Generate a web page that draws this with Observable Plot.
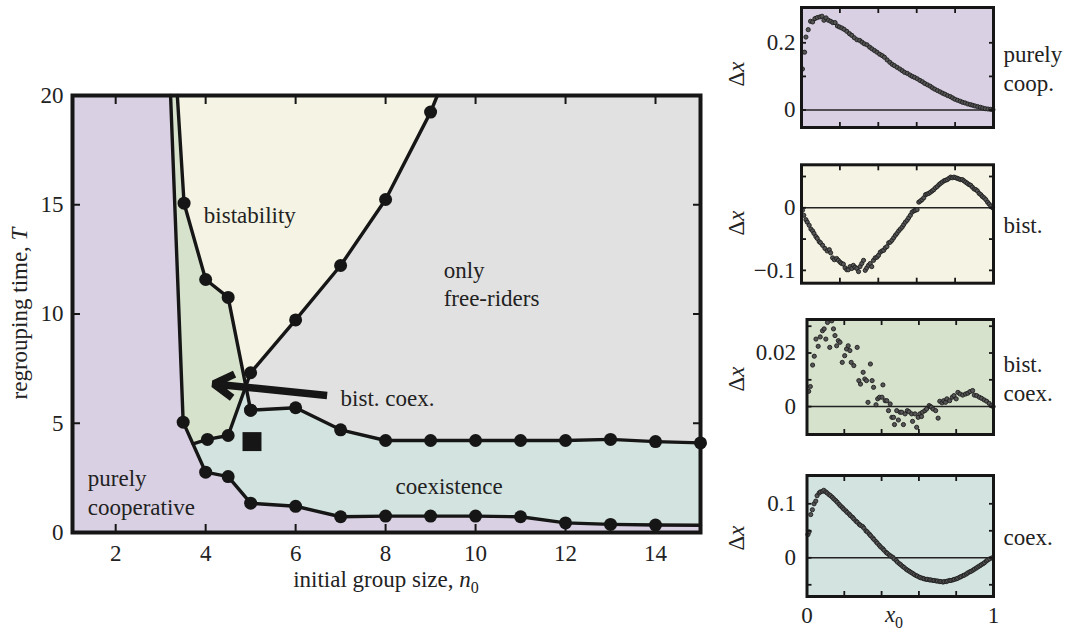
<!DOCTYPE html>
<html><head><meta charset="utf-8">
<script src="https://cdn.jsdelivr.net/npm/d3@7"></script>
<script src="https://cdn.jsdelivr.net/npm/@observablehq/plot@0.6"></script>
<style>
html,body{margin:0;padding:0;background:#fff;}
#wrap{position:relative;width:1068px;height:631px;overflow:hidden;}
#wrap > svg{position:absolute;}
</style></head><body><div id="wrap"></div>
<script>
// ---------- Main phase diagram: boundaries (initial group size n0, regrouping time T) ----------
const coopEdgeN = [3.22, 3.5];
const coopEdgeT = [20, 5.05];
const lowerN = [3.5, 4, 4.5, 5, 6, 7, 8, 9, 10, 11, 12, 13, 14, 15];
const lowerT = [5.05, 2.76, 2.56, 1.34, 1.2, 0.72, 0.75, 0.75, 0.75, 0.72, 0.44, 0.37, 0.34, 0.33];
const bistLeftN = [3.37, 3.52, 4, 4.5, 5];
const bistLeftT = [20, 15.07, 11.58, 10.76, 5.6];
const bistRightN = [5, 6, 7, 8, 9, 9.15];
const bistRightT = [7.31, 9.73, 12.22, 15.24, 19.24, 20];
const coexBistN = [5, 4.5, 4.04, 3.72];
const coexBistT = [7.31, 4.44, 4.26, 4.06];
const upperN = [5, 6, 7, 8, 9, 10, 11, 12, 13, 14, 15];
const upperT = [5.6, 5.71, 4.7, 4.21, 4.21, 4.21, 4.21, 4.21, 4.26, 4.16, 4.1];
const squareN = [5.03];
const squareT = [4.16];
const xTicksMain = [2, 4, 6, 8, 10, 12, 14];
const yTicksMain = [0, 5, 10, 15, 20];

// ---------- Side panels: Δx versus x0 ----------
const coopX = [0.005,0.016,0.023,0.035,0.047,0.058,0.07,0.082,0.096,0.107,0.117,0.128,0.14,0.152,0.163,0.175,0.187,0.198,0.21,0.222,0.236,0.25,0.262,0.275,0.289,0.303,0.315,0.327,0.341,0.355,0.367,0.38,0.393,0.407,0.42,0.432,0.446,0.46,0.472,0.484,0.498,0.512,0.525,0.537,0.551,0.565,0.577,0.589,0.603,0.617,0.63,0.642,0.656,0.67,0.682,0.694,0.708,0.722,0.735,0.747,0.761,0.775,0.787,0.799,0.813,0.827,0.839,0.852,0.866,0.88,0.892,0.904,0.918,0.932,0.944,0.957,0.971,0.985,0.997];
const coopY = [0.122,0.172,0.217,0.239,0.264,0.262,0.272,0.275,0.277,0.279,0.267,0.274,0.267,0.264,0.26,0.26,0.25,0.247,0.244,0.24,0.234,0.227,0.222,0.215,0.209,0.207,0.202,0.197,0.194,0.187,0.182,0.177,0.172,0.166,0.162,0.157,0.149,0.142,0.136,0.132,0.127,0.122,0.117,0.112,0.109,0.104,0.1,0.097,0.093,0.088,0.084,0.079,0.075,0.071,0.066,0.062,0.058,0.054,0.05,0.047,0.043,0.04,0.036,0.032,0.029,0.026,0.023,0.021,0.018,0.016,0.014,0.012,0.01,0.008,0.006,0.004,0.003,0.002,0.001];

const bistX = [0.005,0.012,0.023,0.03,0.04,0.049,0.058,0.065,0.075,0.082,0.092,0.099,0.11,0.122,0.134,0.145,0.152,0.162,0.171,0.183,0.192,0.201,0.209,0.218,0.227,0.236,0.244,0.253,0.262,0.27,0.279,0.288,0.297,0.305,0.314,0.323,0.332,0.34,0.349,0.358,0.366,0.375,0.384,0.393,0.401,0.41,0.419,0.428,0.436,0.445,0.454,0.462,0.471,0.48,0.489,0.497,0.506,0.515,0.524,0.532,0.541,0.55,0.558,0.567,0.576,0.585,0.593,0.602,0.611,0.62,0.628,0.637,0.646,0.654,0.663,0.672,0.681,0.689,0.698,0.707,0.716,0.724,0.733,0.742,0.75,0.759,0.768,0.777,0.785,0.794,0.803,0.812,0.82,0.829,0.838,0.846,0.855,0.864,0.873,0.881,0.89,0.899,0.908,0.916,0.925,0.934,0.942,0.951,0.96,0.969,0.977,0.986,0.995];
const bistY = [-0.004,-0.012,-0.019,-0.023,-0.028,-0.034,-0.037,-0.041,-0.046,-0.049,-0.054,-0.056,-0.06,-0.065,-0.069,-0.067,-0.072,-0.08,-0.083,-0.081,-0.084,-0.087,-0.089,-0.09,-0.096,-0.099,-0.099,-0.094,-0.097,-0.092,-0.095,-0.097,-0.102,-0.094,-0.089,-0.084,-0.1,-0.096,-0.092,-0.089,-0.094,-0.084,-0.08,-0.079,-0.076,-0.071,-0.069,-0.068,-0.064,-0.062,-0.056,-0.055,-0.052,-0.048,-0.044,-0.041,-0.037,-0.034,-0.031,-0.027,-0.023,-0.02,-0.016,-0.012,-0.007,-0.005,-0.004,-0.003,0.009,0.011,0.013,0.016,0.021,0.022,0.023,0.025,0.027,0.029,0.032,0.034,0.037,0.039,0.041,0.043,0.044,0.045,0.047,0.049,0.048,0.049,0.048,0.047,0.046,0.045,0.045,0.043,0.041,0.039,0.037,0.036,0.033,0.03,0.029,0.027,0.023,0.021,0.018,0.016,0.013,0.009,0.006,0.003,0];

const bcX = [0.009,0.018,0.03,0.039,0.048,0.06,0.071,0.083,0.092,0.101,0.11,0.122,0.133,0.142,0.15,0.159,0.168,0.177,0.189,0.202,0.212,0.221,0.23,0.237,0.251,0.269,0.278,0.287,0.301,0.31,0.319,0.327,0.34,0.349,0.357,0.37,0.379,0.389,0.402,0.407,0.419,0.428,0.437,0.446,0.455,0.464,0.469,0.481,0.49,0.499,0.508,0.517,0.526,0.538,0.547,0.561,0.566,0.579,0.588,0.596,0.605,0.614,0.619,0.632,0.641,0.655,0.662,0.667,0.676,0.69,0.703,0.712,0.724,0.733,0.743,0.75,0.765,0.779,0.788,0.8,0.809,0.821,0.835,0.85,0.862,0.874,0.888,0.897,0.91,0.924,0.936,0.95,0.963,0.977,0.989,0.998];
const bcY = [0.0057,0.0075,0.0155,0.0188,0.0252,0.0225,0.026,0.0283,0.029,0.0252,0.0314,0.0221,0.032,0.029,0.0265,0.0227,0.0246,0.024,0.0165,0.019,0.0215,0.0227,0.0209,0.0165,0.0153,0.0221,0.0097,0.0084,0.0128,0.0103,0.0097,0.0016,0.0159,0.0097,0.0072,0.0007,0.0029,0.0035,0.0035,0.0081,0.0022,0.0022,-0.0015,0.001,-0.004,-0.004,-0.0067,-0.0015,-0.005,-0.0021,-0.0021,-0.0067,-0.0027,-0.0015,-0.0019,-0.0027,-0.0055,-0.0027,-0.0077,-0.004,-0.0027,-0.0037,-0.0021,-0.0015,-0.0009,0.0004,0,-0.0002,-0.0009,-0.0015,-0.0043,0.002,0.0014,0.0022,0.0016,0.0029,0.0022,0.0035,0.0041,0.0029,0.0053,0.0047,0.0043,0.0047,0.005,0.0056,0.006,0.0043,0.0041,0.0035,0.0031,0.0025,0.002,0.0012,0.0004,0];

const coexX = [0.005,0.011,0.02,0.029,0.038,0.047,0.054,0.065,0.072,0.083,0.09,0.101,0.108,0.118,0.126,0.136,0.144,0.154,0.162,0.172,0.18,0.19,0.197,0.208,0.215,0.226,0.233,0.244,0.251,0.262,0.269,0.28,0.287,0.298,0.305,0.316,0.323,0.334,0.341,0.352,0.359,0.37,0.377,0.388,0.395,0.406,0.413,0.424,0.431,0.442,0.449,0.46,0.467,0.478,0.485,0.496,0.503,0.513,0.521,0.531,0.539,0.549,0.557,0.567,0.575,0.585,0.592,0.603,0.61,0.621,0.628,0.639,0.646,0.657,0.664,0.675,0.682,0.693,0.7,0.711,0.718,0.729,0.736,0.747,0.754,0.765,0.772,0.783,0.79,0.801,0.808,0.819,0.826,0.837,0.844,0.855,0.862,0.873,0.88,0.89,0.898,0.908,0.916,0.926,0.934,0.944,0.952,0.962,0.969,0.98,0.993];
const coexY = [0.043,0.048,0.08,0.089,0.1,0.105,0.115,0.12,0.122,0.123,0.125,0.122,0.12,0.117,0.115,0.112,0.109,0.106,0.103,0.099,0.096,0.093,0.09,0.087,0.084,0.081,0.078,0.075,0.072,0.068,0.066,0.062,0.06,0.058,0.055,0.05,0.048,0.044,0.041,0.037,0.034,0.03,0.027,0.023,0.02,0.017,0.014,0.01,0.008,0.005,0.003,0.001,-0.002,-0.005,-0.008,-0.011,-0.013,-0.016,-0.018,-0.021,-0.023,-0.025,-0.027,-0.029,-0.031,-0.033,-0.034,-0.036,-0.037,-0.038,-0.039,-0.04,-0.04,-0.041,-0.041,-0.042,-0.042,-0.043,-0.043,-0.044,-0.044,-0.045,-0.044,-0.044,-0.043,-0.042,-0.042,-0.041,-0.04,-0.039,-0.038,-0.036,-0.035,-0.033,-0.032,-0.03,-0.028,-0.026,-0.025,-0.023,-0.021,-0.019,-0.017,-0.015,-0.013,-0.011,-0.009,-0.006,-0.004,-0.002,0];

// ---------- styling ----------
const PURPLE = "#d9d1e3", YELLOW = "#f5f3e3", GREEN = "#d6e2cc", GREY = "#e1e1e1", TEAL = "#d3e3e0";
const INK = "#161616";
const FONT = "'Liberation Serif', 'Times New Roman', serif";
const style = {fontFamily: FONT, fontSize: "23px", color: "#222", background: "transparent", overflow: "visible"};
const N_MIN = 1.04, N_MAX = 15, T_MIN = 0, T_MAX = 20;

const zip = (xs, ys) => xs.slice(0, Math.min(xs.length, ys.length)).map((x, i) => [x, ys[i]]);
const X = d => d[0], Y = d => d[1];
function intersect([x1, y1], [x2, y2], [x3, y3], [x4, y4]) {
  const den = (x1 - x2) * (y3 - y4) - (y1 - y2) * (x3 - x4);
  const t = ((x1 - x3) * (y3 - y4) - (y1 - y3) * (x3 - x4)) / den;
  return [x1 + t * (x2 - x1), y1 + t * (y2 - y1)];
}

const coopEdge = zip(coopEdgeN, coopEdgeT);
const lower = zip(lowerN, lowerT);
const bistLeft = zip(bistLeftN, bistLeftT);
const bistRight = zip(bistRightN, bistRightT);
const coexBist = zip(coexBistN, coexBistT);
const upper = zip(upperN, upperT);
const square = zip(squareN, squareT);
const cross = intersect(bistLeft[3], bistLeft[4], coexBist[0], coexBist[1]);

const greyPoly = [bistLeft[0], [N_MAX, T_MAX], ...upper.slice().reverse(), ...bistLeft.slice(1, 4).reverse()];
const yellowPoly = [bistLeft[0], ...bistRight.slice().reverse(), cross, ...bistLeft.slice(1, 4).reverse()];
const greenPoly = [coopEdge[0], ...bistLeft.slice(0, 4), cross, ...coexBist.slice(1), coopEdge[1]];
const tealPoly = [...coexBist.slice(1).reverse(), cross, ...upper, ...lower.slice(1).reverse()];
const boundaries = [coopEdge, lower, bistLeft, bistRight, coexBist, upper];
const dots = [...lower.slice(0, -1), ...bistLeft.slice(1), ...bistRight.slice(0, -1), ...coexBist.slice(1, 3), ...upper];

const wrap = document.getElementById("wrap");

const main = Plot.plot({
  width: 730, height: 631,
  marginLeft: 72, marginRight: 30, marginTop: 95, marginBottom: 99,
  x: {domain: [N_MIN, N_MAX]},
  y: {domain: [T_MIN, T_MAX]},
  style,
  marks: [
    Plot.frame({fill: PURPLE, stroke: "none"}),
    Plot.line(greyPoly, {x: X, y: Y, fill: GREY, stroke: "none"}),
    Plot.line(yellowPoly, {x: X, y: Y, fill: YELLOW, stroke: "none"}),
    Plot.line(greenPoly, {x: X, y: Y, fill: GREEN, stroke: "none"}),
    Plot.line(tealPoly, {x: X, y: Y, fill: TEAL, stroke: "none"}),
    ...boundaries.map(b => Plot.line(b, {x: X, y: Y, stroke: INK, strokeWidth: 3.4, strokeLinejoin: "round"})),
    Plot.dot(dots, {x: X, y: Y, r: 6.5, fill: INK}),
    Plot.dot(square, {x: X, y: Y, symbol: "square", r: 10.7, fill: INK}),
    Plot.arrow([0], {x1: 6.7, y1: 6.27, x2: 4.18, y2: 6.8, stroke: INK, strokeWidth: 7.5, headLength: 4.6, headAngle: 62, strokeLinejoin: "miter", strokeLinecap: "butt"}),
    Plot.text(["bistability"], {x: 3.96, y: 14.48, text: d => d, textAnchor: "start"}),
    Plot.text(["only\nfree-riders"], {x: 9.29, y: 11.4, text: d => d, textAnchor: "start", lineHeight: 1.22}),
    Plot.text(["bist. coex."], {x: 7.0, y: 6.13, text: d => d, textAnchor: "start"}),
    Plot.text(["purely\ncooperative"], {x: 1.38, y: 1.9, text: d => d, textAnchor: "start", lineHeight: 1.25}),
    Plot.text(["coexistence"], {x: 8.22, y: 2.1, text: d => d, textAnchor: "start"}),
    // tick labels
    Plot.axisX({anchor: "bottom", ticks: xTicksMain, tickSize: 0, tickPadding: 12, label: null}),
    Plot.axisY({anchor: "left", ticks: yTicksMain, tickSize: 0, tickPadding: 9, label: null}),
    // inward ticks on all four sides
    Plot.axisX({anchor: "bottom", ticks: xTicksMain, tickSize: 8, dy: -8, fill: "none", label: null, stroke: INK, strokeWidth: 2}),
    Plot.axisX({anchor: "top", ticks: xTicksMain, tickSize: 8, dy: 8, fill: "none", label: null, stroke: INK, strokeWidth: 2}),
    Plot.axisY({anchor: "left", ticks: [5, 10, 15], tickSize: 8, dx: 8, fill: "none", label: null, stroke: INK, strokeWidth: 2}),
    Plot.axisY({anchor: "right", ticks: [5, 10, 15], tickSize: 8, dx: -8, fill: "none", label: null, stroke: INK, strokeWidth: 2}),
    Plot.frame({stroke: INK, strokeWidth: 4})
  ]
});
main.style.left = "0px"; main.style.top = "0px";
wrap.appendChild(main);
{
  const s = d3.select(main);
  const yl = s.append("text").attr("transform", "translate(27,313.5) rotate(-90)")
    .attr("text-anchor", "middle").attr("fill", "#222").attr("font-size", 23);
  yl.append("tspan").text("regrouping time, ");
  yl.append("tspan").attr("font-style", "italic").text("T");
  const xl = s.append("text").attr("x", 386).attr("y", 587)
    .attr("text-anchor", "middle").attr("fill", "#222").attr("font-size", 23);
  xl.append("tspan").text("initial group size, ");
  xl.append("tspan").attr("font-style", "italic").text("n");
  xl.append("tspan").attr("font-size", 16).attr("dy", 6).text("0");
}

const fmt = d => d === 0 ? "0" : (d < 0 ? "\u2212" : "") + Math.abs(d);

function panel({xs, ys, yDomain, yTicks, yLabels, fill, top, height, mt, mb, ml, pad, name, labelY, xAxis}) {
  const pts = zip(xs, ys);
  const marks = [
    Plot.frame({fill, stroke: "none"}),
    Plot.ruleY([0], {stroke: "#222", strokeWidth: 1.5}),
    Plot.dot(pts, {x: X, y: Y, r: 2.1, fill: "#555", stroke: "#1e1e1e", strokeWidth: 0.9}),
    Plot.axisX({anchor: "bottom", ticks: [0.2, 0.4, 0.6, 0.8], tickSize: 5, dy: -5, fill: "none", label: null, stroke: INK, strokeWidth: 1.8}),
    Plot.axisX({anchor: "top", ticks: [0.2, 0.4, 0.6, 0.8], tickSize: 5, dy: 5, fill: "none", label: null, stroke: INK, strokeWidth: 1.8}),
    Plot.axisY({anchor: "left", ticks: yTicks, tickSize: 5, dx: 5, fill: "none", label: null, stroke: INK, strokeWidth: 1.8}),
    Plot.axisY({anchor: "right", ticks: yTicks, tickSize: 5, dx: -5, fill: "none", label: null, stroke: INK, strokeWidth: 1.8}),
    Plot.axisY({anchor: "left", ticks: yLabels, tickSize: 0, tickPadding: pad, tickFormat: fmt, label: null}),
    Plot.text([name], {frameAnchor: "right", dx: 10, text: d => d, textAnchor: "start", lineHeight: 1.25}),
    Plot.frame({stroke: INK, strokeWidth: 3})
  ];
  if (xAxis) marks.push(Plot.axisX({anchor: "bottom", ticks: [0, 1], tickSize: 0, tickPadding: 10, tickFormat: fmt, label: null}));
  const svg = Plot.plot({
    width: 338, height,
    marginLeft: ml, marginRight: 75, marginTop: mt, marginBottom: mb,
    x: {domain: [0, 1]}, y: {domain: yDomain},
    style, marks
  });
  svg.style.left = "730px"; svg.style.top = top + "px";
  wrap.appendChild(svg);
  const s = d3.select(svg);
  const t = s.append("text").attr("transform", `translate(14,${labelY}) rotate(-90)`)
    .attr("text-anchor", "middle").attr("fill", "#222").attr("font-size", 23);
  t.append("tspan").text("\u0394");
  t.append("tspan").attr("font-style", "italic").text("x");
  if (xAxis) {
    const xl = s.append("text").attr("x", 164).attr("y", height - 9)
      .attr("text-anchor", "middle").attr("fill", "#222").attr("font-size", 23);
    xl.append("tspan").attr("font-style", "italic").text("x");
    xl.append("tspan").attr("font-size", 16).attr("dy", 6).text("0");
  }
  return svg;
}

panel({xs: coopX, ys: coopY, yDomain: [-0.052, 0.305], yTicks: [0, 0.1, 0.2], yLabels: [0, 0.2], fill: PURPLE,
  top: 0, height: 150, mt: 7, mb: 23, ml: 71, pad: 6, name: "purely\ncoop.", labelY: 74});
panel({xs: bistX, ys: bistY, yDomain: [-0.1205, 0.0687], yTicks: [-0.1, -0.05, 0, 0.05], yLabels: [-0.1, 0], fill: YELLOW,
  top: 150, height: 150, mt: 14.3, mb: 17.3, ml: 71, pad: 6, name: "bist.", labelY: 73});
panel({xs: bcX, ys: bcY, yDomain: [-0.0104, 0.0325], yTicks: [0, 0.01, 0.02, 0.03], yLabels: [0, 0.02], fill: GREEN,
  top: 300, height: 150, mt: 19, mb: 16, ml: 76.5, pad: 11, name: "bist.\ncoex.", labelY: 79});
panel({xs: coexX, ys: coexY, yDomain: [-0.0717, 0.1524], yTicks: [-0.05, 0, 0.05, 0.1], yLabels: [0, 0.1], fill: TEAL,
  top: 450, height: 181, mt: 25, mb: 35, ml: 76.5, pad: 11, name: "coex.", labelY: 88, xAxis: true});
</script></body></html>
